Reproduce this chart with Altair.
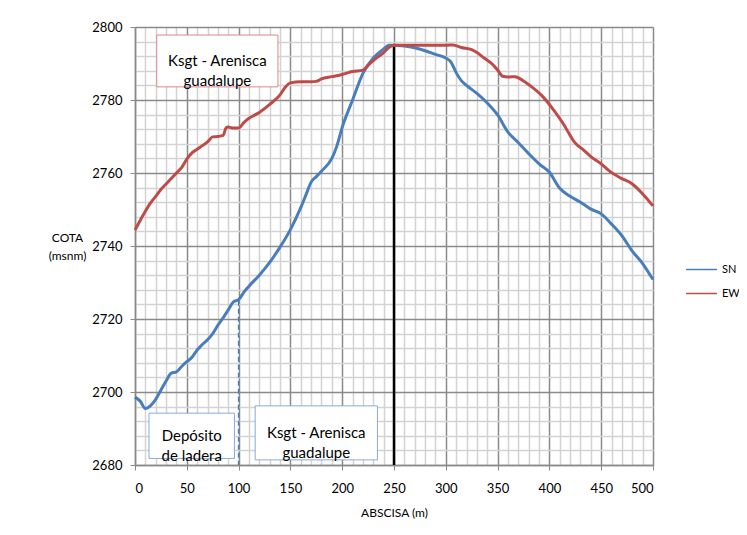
import altair as alt
import pandas as pd

# ---- data ----
sn_x = [0, 5, 10, 15, 20, 25, 30, 35, 40, 45, 50, 55, 60, 65, 70, 75, 80, 85, 90, 95,
        100, 105, 110, 120, 130, 140, 150, 160, 165, 170, 175, 180, 190, 195, 200, 210,
        220, 230, 240, 245, 250, 260, 270, 280, 290, 300, 305, 310, 315, 320, 330, 340,
        350, 360, 370, 380, 390, 400, 410, 420, 430, 440, 450, 460, 470, 480, 490, 500]
sn_y = [2698.6, 2697.5, 2695.5, 2696.3, 2698.0, 2700.5, 2703.0, 2705.2, 2705.5, 2707.0,
        2708.3, 2709.5, 2711.5, 2713.0, 2714.3, 2716.0, 2718.3, 2720.3, 2722.5, 2724.7,
        2725.3, 2727.3, 2729.0, 2732.0, 2735.5, 2739.7, 2744.5, 2750.5, 2754.0, 2757.5,
        2759.0, 2760.5, 2764.0, 2767.5, 2772.5, 2780.0, 2787.3, 2791.5, 2794.0, 2795.0,
        2795.0, 2794.8, 2794.3, 2793.5, 2792.5, 2791.5, 2790.4, 2787.5, 2785.3, 2784.0,
        2781.8, 2779.2, 2775.9, 2771.2, 2768.3, 2765.3, 2762.5, 2760.2, 2755.8, 2753.6,
        2752.0, 2750.1, 2748.8, 2746.0, 2742.8, 2738.6, 2735.2, 2730.8]

ew_x = [0, 5, 10, 15, 20, 25, 30, 35, 40, 45, 50, 55, 60, 65, 70, 75, 80, 85, 88, 90,
        95, 100, 105, 110, 115, 120, 130, 140, 145, 150, 160, 170, 175, 180, 190, 200,
        210, 220, 225, 230, 240, 245, 250, 270, 290, 300, 307, 315, 325, 330, 337, 345,
        350, 355, 360, 367, 375, 382, 392, 404, 414, 420, 424, 433, 440, 450, 459, 469,
        480, 491, 500]
ew_y = [2744.4, 2747.0, 2749.5, 2751.8, 2753.6, 2755.5, 2757.0, 2758.5, 2760.0, 2761.5,
        2763.8, 2765.5, 2766.5, 2767.5, 2768.5, 2769.9, 2770.0, 2770.3, 2772.4, 2772.6,
        2772.3, 2772.3, 2773.8, 2775.0, 2775.8, 2776.6, 2778.8, 2781.4, 2783.5, 2784.7,
        2785.0, 2785.0, 2785.1, 2785.8, 2786.4, 2787.0, 2787.8, 2788.2, 2789.5, 2790.8,
        2793.0, 2794.4, 2795.0, 2795.0, 2795.0, 2795.0, 2795.1, 2794.4, 2793.8, 2793.0,
        2791.5, 2789.8, 2788.2, 2786.5, 2786.3, 2786.4, 2785.2, 2783.8, 2781.4, 2777.3,
        2773.2, 2770.3, 2768.5, 2766.3, 2764.5, 2762.5, 2760.3, 2758.6, 2757.0, 2754.0,
        2751.0]

series_names = ["SN", "EW"]
series_colors = ["#4A7EBB", "#BE4B48"]

# vertical markers: contact (dashed) and crest (solid)
marker_x = [100, 250]
marker_top = [2725, 2795]
marker_kind = ["contacto", "cresta"]

# annotation boxes
box_x = [21, 13.5, 116]
box_x2 = [138, 96, 234]
box_y = [2797.8, 2694.2, 2696.2]
box_y2 = [2783.6, 2681.8, 2681.4]
box_text = ["Ksgt - Arenisca\nguadalupe", "Depósito\nde ladera", "Ksgt - Arenisca\nguadalupe"]
box_kind = ["rojo", "azul", "azul"]

x_ticks = list(range(0, 501, 10))
y_ticks = list(range(2680, 2801, 4))
y_min, y_max = 2680, 2800

# ---- tables ----
df_sn = pd.DataFrame({"x": sn_x, "y": sn_y, "serie": "SN"})
df_ew = pd.DataFrame({"x": ew_x, "y": ew_y, "serie": "EW"})
df_mark = pd.DataFrame({"x": marker_x, "top": marker_top, "base": y_min, "kind": marker_kind})
df_box = pd.DataFrame({"x": box_x, "x2": box_x2, "y": box_y, "y2": box_y2,
                       "text": box_text, "kind": box_kind})
df_box["xc"] = (df_box["x"] + df_box["x2"]) / 2
df_box["yc"] = (df_box["y"] + df_box["y2"]) / 2

FONT = "Lato"
MAJOR = "#8a8a8a"
MINOR = "#d3d3d3"

xscale = alt.Scale(domain=[0, 500], nice=False, zero=False)
yscale = alt.Scale(domain=[y_min, y_max], nice=False, zero=False)

mx = "datum.value % 50 === 0"
my = "datum.value % 20 === 0"

xaxis = alt.Axis(
    values=x_ticks, title="ABSCISA (m)", labelExpr=f"{mx} ? datum.label : ''",
    labelOverlap=False, labelFont=FONT, labelFontSize=13, labelColor="#000",
    labelPadding=12, tickSize=5,
    tickColor={"condition": {"test": mx, "value": MAJOR}, "value": "transparent"},
    gridColor={"condition": {"test": mx, "value": MAJOR}, "value": MINOR},
    gridWidth=1.5, domainColor=MAJOR, domainWidth=1.5,
    titleFont=FONT, titleFontSize=12, titleFontWeight="normal", titleColor="#000",
    titlePadding=12,
)
yaxis = alt.Axis(
    values=y_ticks, title=["COTA", "(msnm)"], format="d",
    labelExpr=f"{my} ? datum.label : ''",
    labelOverlap=False, labelFont=FONT, labelFontSize=13, labelColor="#000",
    labelPadding=8, tickSize=5,
    tickColor={"condition": {"test": my, "value": MAJOR}, "value": "transparent"},
    gridColor={"condition": {"test": my, "value": MAJOR}, "value": MINOR},
    gridWidth=1.5, domainColor=MAJOR, domainWidth=1.5,
    titleFont=FONT, titleFontSize=12, titleFontWeight="normal", titleColor="#000",
    titleAngle=0, titleAlign="center", titleBaseline="top", titleX=-68, titleY=205,
    titleLineHeight=18,
)

color_scale = alt.Scale(domain=series_names, range=series_colors)
legend = alt.Legend(
    title=None, orient="none", legendX=550, legendY=226, symbolType="stroke",
    symbolSize=950, symbolStrokeWidth=1.5, labelFont=FONT, labelFontSize=11,
    labelColor="#000", rowPadding=2, labelOffset=4,
)

def X(field):
    return alt.X(field, scale=xscale, axis=xaxis)

def Y(field):
    return alt.Y(field, scale=yscale, axis=yaxis)

boxes = alt.Chart(df_box).mark_rect(fill="white", strokeWidth=1).encode(
    x=X("x:Q"), x2="x2:Q",
    y=Y("y:Q"), y2="y2:Q",
    stroke=alt.Stroke("kind:N", scale=alt.Scale(domain=["rojo", "azul"],
                                                 range=["#D98A88", "#8AAAD8"]), legend=None),
)
box_labels = alt.Chart(df_box).mark_text(
    font=FONT, fontSize=15, lineBreak="\n", lineHeight=20, color="#000", baseline="middle"
).encode(x=X("xc:Q"), y=Y("yc:Q"), text="text:N")

contact = alt.Chart(df_mark).transform_filter("datum.kind == 'contacto'").mark_rule(
    color="#4A7EBB", strokeWidth=1.5, strokeDash=[5, 3]
).encode(x=X("x:Q"), y=Y("top:Q"), y2="base:Q")
crest = alt.Chart(df_mark).transform_filter("datum.kind == 'cresta'").mark_rule(
    color="#000", strokeWidth=2.5
).encode(x=X("x:Q"), y=Y("top:Q"), y2="base:Q")

sn_line = alt.Chart(df_sn).mark_line(strokeWidth=3, interpolate="monotone").encode(
    x=X("x:Q"), y=Y("y:Q"), color=alt.Color("serie:N", scale=color_scale, legend=legend))
ew_line = alt.Chart(df_ew).mark_line(strokeWidth=3, interpolate="monotone").encode(
    x=X("x:Q"), y=Y("y:Q"), color=alt.Color("serie:N", scale=color_scale, legend=legend))

chart = alt.layer(boxes, box_labels, contact, crest, sn_line, ew_line).properties(
    width=518, height=438,
    autosize=alt.AutoSizeParams(type="none"),
    padding={"left": 127, "top": 19, "right": 86, "bottom": 60},
    background="white",
).configure_view(stroke=None)

chart.save("out.html", embed_options={"renderer": "svg", "actions": False})
